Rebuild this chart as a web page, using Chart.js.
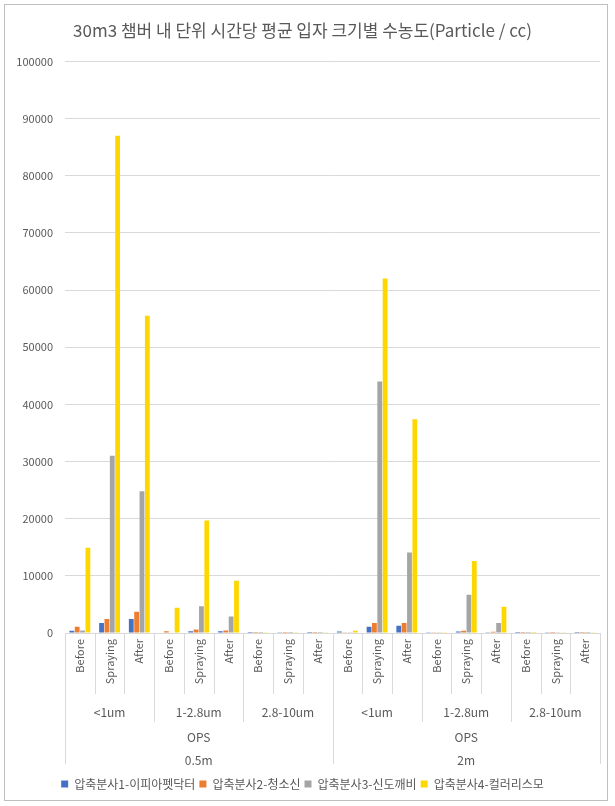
<!DOCTYPE html>
<html>
<head>
<meta charset="utf-8">
<script src="https://cdn.jsdelivr.net/npm/chart.js@4.4.0/dist/chart.umd.min.js"></script>
<style>
  html, body { margin: 0; padding: 0; background: #fff; }
  #wrap { width: 615px; height: 806px; }
</style>
</head>
<body>
<div id="wrap"><canvas id="chart" width="615" height="806"></canvas></div>
<script>
const phases = ["Before", "Spraying", "After"];
const sizes = ["<1um", "1-2.8um", "2.8-10um"];
const instrument = "OPS";
const distances = ["0.5m", "2m"];

// 18 categories: distance x size x phase
const tickLabels = [];
distances.forEach(() => sizes.forEach(() => phases.forEach(p => tickLabels.push(p))));

const seriesNames = [
  "압축분사1-이피아펫닥터",
  "압축분사2-청소신",
  "압축분사3-신도깨비",
  "압축분사4-컬러리스모"
];

// values, in the order of tickLabels
const s1 = [400, 1750, 2450, 100, 300, 300, 20, 30, 10,
            250, 1100, 1270, 50, 250, 50, 10, 30, 10];
const s2 = [1100, 2450, 3700, 300, 600, 450, 10, 20, 10,
            150, 1750, 1750, 50, 400, 200, 10, 20, 10];
const s3 = [450, 31000, 24800, 100, 4700, 2900, 10, 20, 10,
            150, 44000, 14100, 30, 6700, 1750, 10, 30, 10];
const s4 = [14900, 87000, 55500, 4400, 19700, 9150, 50, 120, 60,
            400, 62000, 37400, 150, 12600, 4600, 10, 60, 50];

const colors = ['#4472C4', '#ED7D31', '#A5A5A5', '#FFD700'];
const textColor = '#595959';
const font = '"Noto Sans CJK KR", "Noto Sans", sans-serif';

const groupPlugin = {
  id: 'groups',
  afterDraw(chart) {
    const ctx = chart.ctx;
    const x = chart.scales.x;
    const base = chart.chartArea.bottom;
    const n = tickLabels.length;
    const w = (x.right - x.left) / n;

    ctx.save();
    // outer frame
    ctx.strokeStyle = '#bfbfbf';
    ctx.lineWidth = 1;
    ctx.strokeRect(4.5, 4.5, 603, 796);

    // separators
    ctx.strokeStyle = '#d9d9d9';
    for (let i = 0; i <= n; i++) {
      const xp = Math.round(x.left + i * w) + 0.5;
      let end = base + 61;
      if (i % 9 === 0) end = base + 131;
      else if (i % 3 === 0) end = base + 89;
      ctx.beginPath();
      ctx.moveTo(xp, base);
      ctx.lineTo(xp, end);
      ctx.stroke();
    }

    // group labels
    ctx.fillStyle = textColor;
    ctx.textAlign = 'center';
    ctx.textBaseline = 'middle';
    ctx.font = '12px ' + font;
    distances.forEach((d, di) => {
      sizes.forEach((s, si) => {
        const start = di * 9 + si * 3;
        ctx.fillText(s, x.left + (start + 1.5) * w, base + 79);
      });
      const cx = x.left + (di * 9 + 4.5) * w;
      ctx.fillText(instrument, cx, base + 104);
      ctx.fillText(d, cx, base + 127);
    });
    ctx.restore();
  }
};

new Chart(document.getElementById('chart'), {
  type: 'bar',
  data: {
    labels: tickLabels,
    datasets: [s1, s2, s3, s4].map((d, i) => ({
      label: seriesNames[i],
      data: d,
      backgroundColor: colors[i],
      borderWidth: 0,
      categoryPercentage: 0.72,
      barPercentage: 0.9
    }))
  },
  options: {
    responsive: false,
    animation: false,
    layout: { padding: { left: 5, right: 15, top: 5, bottom: 6 } },
    plugins: {
      title: {
        display: true,
        text: '30m3 챔버 내 단위 시간당 평균 입자 크기별 수농도(Particle / cc)',
        color: textColor,
        font: { family: font, size: 17, weight: 'normal' },
        padding: { top: 15, bottom: 21 }
      },
      legend: {
        position: 'bottom',
        labels: {
          color: textColor,
          font: { family: font, size: 12 },
          boxWidth: 7,
          boxHeight: 7,
          padding: 4
        }
      },
      tooltip: { enabled: false }
    },
    scales: {
      x: {
        grid: { display: true, drawOnChartArea: false, drawTicks: false, color: 'rgba(0,0,0,0)' },
        border: { display: false },
        ticks: {
          color: textColor,
          font: { family: font, size: 11 },
          minRotation: 90,
          maxRotation: 90,
          padding: 6,
          autoSkip: false
        },
        afterFit(scale) { scale.height = 141; }
      },
      y: {
        min: 0,
        max: 100000,
        grid: { color: '#d9d9d9', drawTicks: false },
        border: { display: false },
        ticks: {
          stepSize: 10000,
          color: textColor,
          font: { family: font, size: 11 },
          padding: 12,
          callback: v => String(v)
        },
        afterFit(scale) { scale.width = 60; }
      }
    }
  },
  plugins: [groupPlugin]
});
</script>
</body>
</html>
